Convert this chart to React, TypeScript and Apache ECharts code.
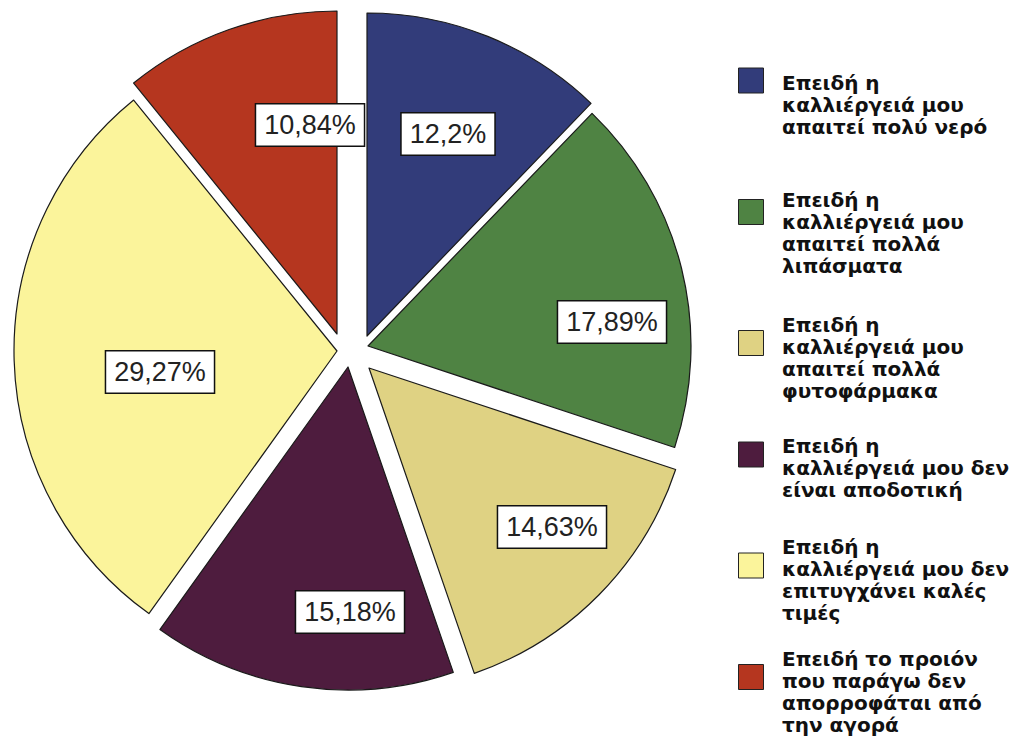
import React, { useEffect, useRef } from "react";
import * as echarts from "echarts";

// ---- data ----
const CATEGORIES: string[] = [
  "Επειδή η\nκαλλιέργειά μου\nαπαιτεί πολύ νερό",
  "Επειδή η\nκαλλιέργειά μου\nαπαιτεί πολλά\nλιπάσματα",
  "Επειδή η\nκαλλιέργειά μου\nαπαιτεί πολλά\nφυτοφάρμακα",
  "Επειδή η\nκαλλιέργειά μου δεν\nείναι αποδοτική",
  "Επειδή η\nκαλλιέργειά μου δεν\nεπιτυγχάνει καλές\nτιμές",
  "Επειδή το προιόν\nπου παράγω δεν\nαπορροφάται από\nτην αγορά",
];
const PERCENTS: number[] = [12.2, 17.89, 14.63, 15.18, 29.27, 10.84];

// ---- styles / layout ----
const COLORS: string[] = ["#323c7a", "#4f8343", "#dfd283", "#4e1c3e", "#fbf49b", "#b5361f"];
const PIE_CENTER: number[] = [352, 350];
const PIE_RADIUS = 323;
// explosion of each slice (px)
const EXPLODE_X: number[] = [15, 16, 17, -4, -15, -15];
const EXPLODE_Y: number[] = [-14, -4, 18, 17, 1, -16];
// label box centres
const LABEL_X: number[] = [448, 612, 552, 350, 160, 310];
const LABEL_Y: number[] = [134, 322, 527, 612, 372, 125];
// legend
const MARKER_TOP: number[] = [67.5, 199, 330, 441.5, 552.5, 664];
const TEXT_TOP: number[] = [72, 189, 314, 435, 536, 648];

const LABEL_FONT = "'Liberation Sans', Arial, Helvetica, sans-serif";
const LEGEND_FONT = "'DejaVu Sans', Verdana, sans-serif";

export default function App() {
  const ref = useRef<HTMLDivElement>(null);

  useEffect(() => {
    if (!ref.current) return;
    const chart = echarts.init(ref.current, null, { renderer: "svg" });

    const labelStyle = {
      show: true,
      position: "inside",
      formatter: (p: any) => String(p.value).replace(".", ",") + "%",
      fontFamily: LABEL_FONT,
      fontSize: 27,
      lineHeight: 30,
      color: "#222",
      backgroundColor: "#ffffff",
      borderColor: "#111",
      borderWidth: 1.5,
      padding: [6, 8, 5, 8],
    };

    const markerLegends = CATEGORIES.map((name, i) => ({
      data: [name],
      left: 738,
      top: MARKER_TOP[i],
      padding: 0,
      icon: "rect",
      itemWidth: 25,
      itemHeight: 25,
      selectedMode: false,
      formatter: () => "",
      textStyle: { fontSize: 10, lineHeight: 10 },
      itemStyle: { color: COLORS[i], opacity: 1, borderColor: "#222", borderWidth: 1 },
    }));

    const textLegends = CATEGORIES.map((name, i) => ({
      data: [name],
      left: 777,
      top: TEXT_TOP[i],
      padding: 0,
      icon: "none",
      itemWidth: 0,
      itemHeight: 0,
      selectedMode: false,
      textStyle: {
        fontFamily: LEGEND_FONT,
        fontWeight: "bold",
        fontSize: 20,
        lineHeight: 22,
        color: "#111",
      },
    }));

    const series = CATEGORIES.map((_, s) => ({
      type: "pie",
      center: [PIE_CENTER[0] + EXPLODE_X[s], PIE_CENTER[1] + EXPLODE_Y[s]],
      radius: PIE_RADIUS,
      startAngle: 90,
      clockwise: true,
      silent: true,
      avoidLabelOverlap: false,
      emphasis: { disabled: true },
      labelLine: { show: false },
      label: { show: false },
      labelLayout: (p: any) => ({
        x: LABEL_X[p.dataIndex],
        y: LABEL_Y[p.dataIndex],
        align: "center",
        verticalAlign: "middle",
      }),
      data: CATEGORIES.map((name, i) =>
        i === s
          ? {
              name,
              value: PERCENTS[i],
              itemStyle: { color: COLORS[i], borderColor: "#1a1a1a", borderWidth: 1.2 },
              label: labelStyle,
            }
          : {
              name,
              value: PERCENTS[i],
              itemStyle: { color: "rgba(0,0,0,0)", borderWidth: 0 },
              label: { show: false },
            }
      ),
    }));

    chart.setOption({
      animation: false,
      backgroundColor: "#ffffff",
      legend: [...markerLegends, ...textLegends],
      series,
    });

    return () => chart.dispose();
  }, []);

  return (
    <div
      ref={ref}
      style={{ position: "fixed", left: 0, top: 0, width: 1034, height: 738, background: "#fff" }}
    />
  );
}
